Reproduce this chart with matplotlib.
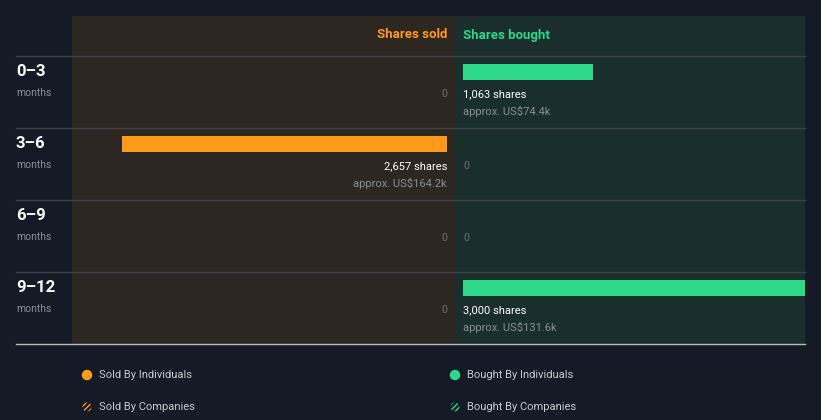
import matplotlib.pyplot as plt
from matplotlib.patches import Circle

plt.rcParams['font.family'] = ['Roboto', 'DejaVu Sans']

# data
periods = ['0–3', '3–6', '6–9', '9–12']
sold_shares = [0, 2657, 0, 0]
sold_value = ['', 'US$164.2k', '', '']
bought_shares = [1063, 0, 0, 3000]
bought_value = ['US$74.4k', '', '', 'US$131.6k']

BG = '#151b26'
SOLD_BG = '#2d2722'
BUY_BG = '#1a2e2d'
ORANGE = '#ff9a1a'
GREEN = '#2dd88a'

W, H = 821, 420
fig = plt.figure(figsize=(W / 100, H / 100), dpi=100, facecolor=BG)

px_per_share = 0.1222
top, head, row_h = 16, 56, 72
bottom = head + row_h * len(periods)


def panel(x0, x1, zero_px, invert, color):
    ax = fig.add_axes([x0 / W, 1 - bottom / H, (x1 - x0) / W, (bottom - top) / H])
    ax.set_facecolor(color)
    if invert:
        ax.set_xlim((zero_px - x0) / px_per_share, -(x1 - zero_px) / px_per_share)
    else:
        ax.set_xlim(-(zero_px - x0) / px_per_share, (x1 - zero_px) / px_per_share)
    ax.set_ylim(bottom, top)
    for s in ax.spines.values():
        s.set_visible(False)
    ax.set_xticks([])
    ax.set_yticks([])
    return ax


ax_s = panel(72, 455, 447, True, SOLD_BG)
ax_b = panel(455, 805, 463, False, BUY_BG)

# full-figure overlay in pixel units
base = fig.add_axes([0, 0, 1, 1], zorder=5)
base.set_xlim(0, W)
base.set_ylim(H, 0)
base.axis('off')

ax_s.text(0, 35, 'Shares sold', color=ORANGE, fontsize=9.5, fontweight='bold',
          ha='right', va='center')
ax_b.text(0, 35, 'Shares bought', color=GREEN, fontsize=9.5, fontweight='bold',
          ha='left', va='center')

for i, p in enumerate(periods):
    y0 = head + row_h * i
    base.text(16, y0 + 15.5, p, color='white', fontsize=12, fontweight='bold',
              ha='left', va='center')
    base.text(16, y0 + 37, 'months', color='#8a8f96', fontsize=7.5,
              ha='left', va='center')
    for ax, shares, val, ha, c in [(ax_s, sold_shares[i], sold_value[i], 'right', ORANGE),
                                   (ax_b, bought_shares[i], bought_value[i], 'left', GREEN)]:
        if shares:
            ax.barh(y0 + 16, shares, height=16, color=c, align='center')
            ax.text(0, y0 + 38, f'{shares:,} shares', color='white', fontsize=8,
                    ha=ha, va='center')
            ax.text(0, y0 + 55, f'approx. {val}', color='#8a8f96', fontsize=8,
                    ha=ha, va='center')
        else:
            ax.text(0, y0 + 38, '0', color='#6b6e70', fontsize=7.5, ha=ha, va='center')

# row separators
for i in range(len(periods)):
    y = head + row_h * i
    base.plot([16, 805], [y, y], color='#3e4146', lw=1)
base.plot([16, 805], [bottom, bottom], color='#b8b8b8', lw=1)

# legend
legend = [('Sold By Individuals', ORANGE, 87, 375, False),
          ('Bought By Individuals', GREEN, 455, 375, False),
          ('Sold By Companies', ORANGE, 87, 407, True),
          ('Bought By Companies', GREEN, 455, 407, True)]
for label, c, x, y, hatched in legend:
    if hatched:
        plt.rcParams['hatch.color'] = c
        base.add_patch(Circle((x, y), 4.5, facecolor=BG, edgecolor=c, lw=0,
                              hatch='//////'))
    else:
        base.add_patch(Circle((x, y), 4.5, color=c))
    base.text(x + 12, y, label, color='#c8cbd0', fontsize=8, ha='left', va='center')

fig.savefig('out.png', dpi=100, facecolor=BG)
